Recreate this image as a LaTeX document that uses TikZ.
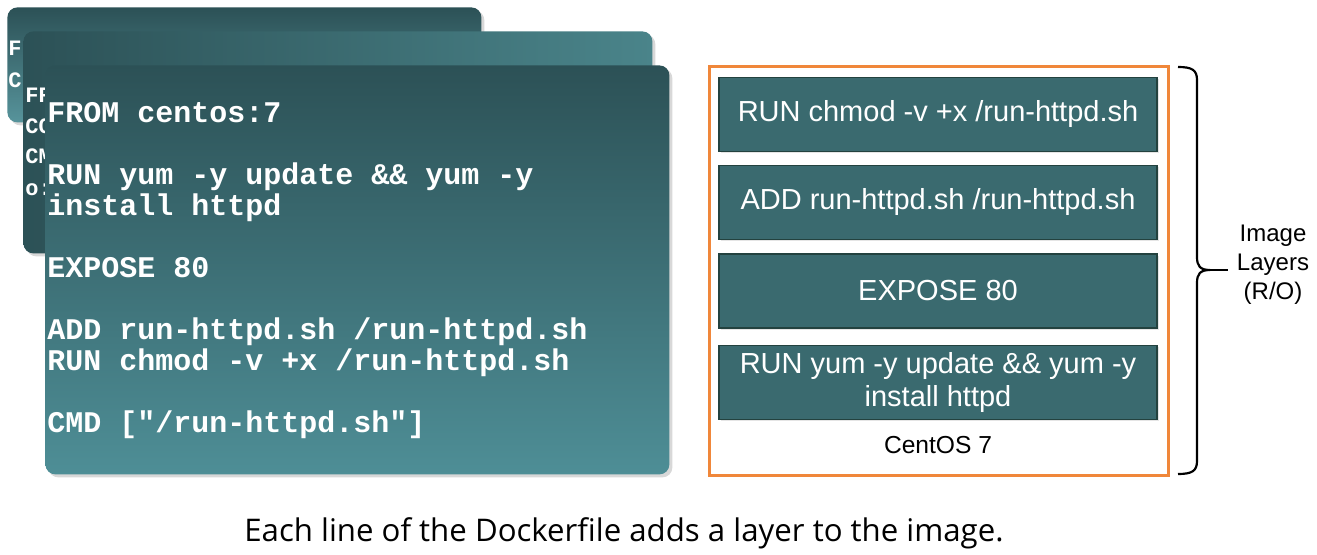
\documentclass[tikz,border=0pt]{standalone}
\usepackage{fontspec}
\setmainfont{Liberation Sans}
\newfontfamily\codefont{Liberation Mono}
\newfontfamily\capfont{Open Sans}
\usetikzlibrary{shadows}
\definecolor{cardDark}{HTML}{2C5156}
\definecolor{cardLight}{HTML}{4E8E96}
\definecolor{cardMid}{HTML}{4A848A}
\definecolor{layerFill}{HTML}{3A6A6F}
\definecolor{layerEdge}{HTML}{23423F}
\definecolor{frameOrange}{HTML}{F0873A}
\tikzset{
  card/.style={rounded corners=5pt, inner sep=0pt, anchor=north west,
    drop shadow={opacity=0.3, shadow xshift=1.5pt, shadow yshift=-1.5pt}},
  code/.style={font=\codefont\bfseries\fontsize{15}{15.5}\selectfont, text=white, inner sep=0pt, anchor=base west},
  smallcode/.style={font=\codefont\bfseries\fontsize{11}{12}\selectfont, text=white, inner sep=0pt, anchor=base west},
  layer/.style={draw=layerEdge, line width=0.8pt, fill=layerFill, text=white,
    minimum width=219pt, minimum height=37pt, inner sep=0pt, align=center,
    font=\fontsize{14.5}{16.5}\selectfont,
    drop shadow={opacity=0.2, shadow xshift=0.8pt, shadow yshift=-0.8pt}},
  frame/.style={draw=frameOrange, line width=1.6pt, inner sep=0pt, anchor=north west},
  brace/.style={draw=black, line width=1.1pt}
}
\begin{document}
\begin{tikzpicture}[x=0.5pt,y=-0.5pt]
\useasboundingbox[fill=white] (0,0) rectangle (1317,555);

% back card
\node[card, top color=cardDark, bottom color=cardLight!95!white, minimum width=237pt, minimum height=57.5pt] (card1) at (7,7) {};
\node[smallcode] (c1a) at (8,56) {F};
\node[smallcode] (c1b) at (8,88) {C};

% middle card
\node[card, left color=cardDark, right color=cardMid, minimum width=314.5pt, minimum height=111pt] (card2) at (23,31) {};
\node[smallcode] (c2a) at (25,103) {FR};
\node[smallcode] (c2b) at (25,134) {CO};
\node[smallcode] (c2c) at (25,164) {CM};
\node[smallcode] (c2d) at (25,196) {o:};

% front card
\node[card, top color=cardDark, bottom color=cardLight, minimum width=312pt, minimum height=204.5pt] (card3) at (45,65) {};
\node[code] (l1) at (47,123) {FROM centos:7};
\node[code] (l2) at (47,185) {RUN yum -y update \&\& yum -y};
\node[code] (l3) at (47,216) {install httpd};
\node[code] (l4) at (47,278) {EXPOSE 80};
\node[code] (l5) at (47,340) {ADD run-httpd.sh /run-httpd.sh};
\node[code] (l6) at (47,371) {RUN chmod -v +x /run-httpd.sh};
\node[code] (l7) at (47,433) {CMD ["/run-httpd.sh"]};

% image frame
\node[frame, minimum width=229.5pt, minimum height=204.5pt] (frame) at (708,65) {};
\node[layer] (lay1) at (938,114.5) {RUN chmod -v +x /run-httpd.sh};
\node[layer] (lay2) at (938,202.5) {ADD run-httpd.sh /run-httpd.sh};
\node[layer] (lay3) at (938,291) {EXPOSE 80};
\node[layer] (lay4) at (938,382.5) {RUN yum -y update \&\& yum -y\\install httpd};
\node[font=\fontsize{12.3}{14}\selectfont, inner sep=0pt] (base) at (938,445) {CentOS 7};

% brace
\coordinate (bt) at (1178,67);
\coordinate (bb) at (1178,474);
\coordinate (bm) at (1210,270);
\coordinate (btip) at (1228,270);
\draw[brace] (bt) .. controls (1192,67) and (1197,70) .. (1197,80) -- (1197,257)
  .. controls (1197,266) and (1200,270) .. (bm)
  .. controls (1200,270) and (1197,274) .. (1197,283) -- (1197,461)
  .. controls (1197,471) and (1192,474) .. (bb);
\draw[brace] (bm) -- (btip);
\node[font=\fontsize{12}{14.5}\selectfont, align=center, inner sep=0pt] (lbl) at (1273,265) {Image\\Layers\\(R/O)};

% caption
\node[font=\capfont\fontsize{15.6}{18}\selectfont, inner sep=0pt] (cap) at (624,533) {Each line of the Dockerfile adds a layer to the image.};
\end{tikzpicture}
\end{document}
